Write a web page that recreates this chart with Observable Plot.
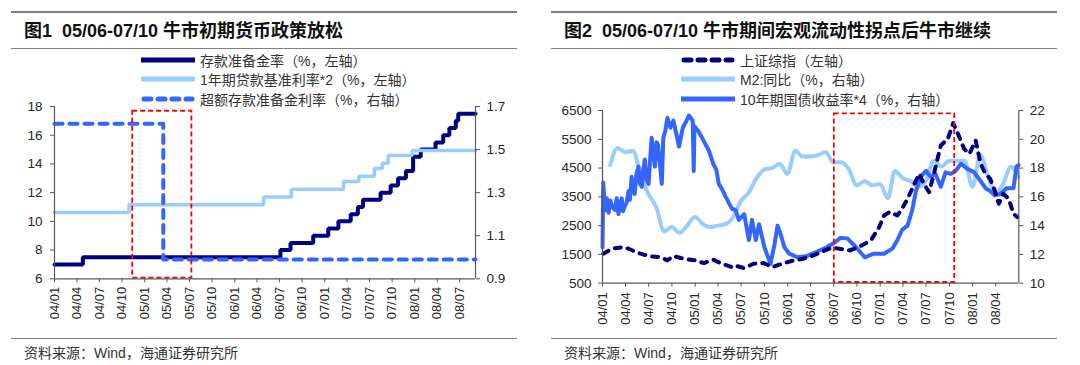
<!DOCTYPE html>
<html><head><meta charset="utf-8">
<script src="https://cdn.jsdelivr.net/npm/d3@7"></script>
<script src="https://cdn.jsdelivr.net/npm/@observablehq/plot@0.6"></script>
<style>
body{margin:0;background:#fff;}
#page{position:relative;width:1080px;height:365px;overflow:hidden;font-family:"Liberation Sans","Noto Sans CJK SC",sans-serif;}
.rule{position:absolute;background:#808080;}
.title{position:absolute;font-weight:bold;font-size:18px;line-height:22px;white-space:pre;color:#111;}
.leg{position:absolute;display:flex;align-items:center;height:18px;font-size:14px;color:#333;white-space:pre;z-index:2;}
.leg svg{display:block;margin-right:5px;}
.src{position:absolute;font-size:14px;line-height:18px;color:#333;white-space:pre;}
.chart{position:absolute;top:95px;z-index:1;}
</style></head><body><div id="page"></div>
<script>
// ---------- Panel 1 data ----------
const title1 = "图1  05/06-07/10 牛市初期货币政策放松";
const legend1 = ["存款准备金率（%，左轴）", "1年期贷款基准利率*2（%，左轴）", "超额存款准备金利率（%，右轴）"];
const rrrDates = ["2004-01-01","2004-04-25","2006-07-05","2006-08-15","2006-11-15","2007-01-15","2007-02-25","2007-04-16","2007-05-15","2007-06-05","2007-08-15","2007-09-25","2007-10-25","2007-11-26","2007-12-25","2008-01-25","2008-03-25","2008-04-25","2008-05-20","2008-06-15","2008-06-25","2008-09-03"];
const rrrValues = [7.0,7.5,8.0,8.5,9.0,9.5,10.0,10.5,11.0,11.5,12.0,12.5,13.0,13.5,14.5,15.0,15.5,16.0,16.5,17.0,17.5,17.5];
const loanDates = ["2004-01-01","2004-10-29","2006-04-28","2006-08-19","2007-03-18","2007-05-19","2007-07-21","2007-08-22","2007-09-15","2007-12-21","2008-09-03"];
const loanValues = [10.62,11.16,11.70,12.24,12.78,13.14,13.68,14.04,14.58,14.94,14.94];
const excessDates = ["2004-01-01","2005-03-17","2008-09-03"];
const excessValues = [1.62,0.99,0.99];
const xDomain1 = ["2004-01-01","2008-09-03"];
const leftTicks1 = [6,8,10,12,14,16,18];
const rightTicks1 = [0.9,1.1,1.3,1.5,1.7];
const xTicks1 = ["2004-01-01","2004-04-01","2004-07-01","2004-10-01","2005-01-01","2005-04-01","2005-07-01","2005-10-01","2006-01-01","2006-04-01","2006-07-01","2006-10-01","2007-01-01","2007-04-01","2007-07-01","2007-10-01","2008-01-01","2008-04-01","2008-07-01"];
const box1 = [{start:"2004-11-13", end:"2005-07-11", low:6.05, high:17.67}];

// ---------- Panel 2 data ----------
const title2 = "图2  05/06-07/10 牛市期间宏观流动性拐点后牛市继续";
const legend2 = ["上证综指（左轴）", "M2:同比（%，右轴）", "10年期国债收益率*4（%，右轴）"];
const shDates = ["2004-01-04","2004-02-07","2004-03-22","2004-04-13","2004-05-22","2004-07-07","2004-08-16","2004-09-13","2004-10-07","2004-11-16","2005-01-01","2005-02-04","2005-03-13","2005-04-16","2005-05-25","2005-06-04","2005-07-13","2005-08-19","2005-09-28","2005-11-01","2005-12-10","2006-01-25","2006-03-04","2006-04-13","2006-05-22","2006-06-22","2006-07-25","2006-09-04","2006-10-13","2006-11-13","2006-11-25","2006-12-28","2007-01-16","2007-02-07","2007-03-10","2007-03-28","2007-04-19","2007-05-13","2007-06-04","2007-06-22","2007-07-13","2007-08-01","2007-08-28","2007-09-25","2007-10-16","2007-11-04","2007-11-28","2007-12-19","2008-01-13","2008-02-01","2008-02-21","2008-03-10","2008-03-28","2008-04-13","2008-05-01","2008-05-22","2008-06-10","2008-06-25"];
const shValues = [1523,1697,1755,1697,1546,1430,1407,1292,1442,1350,1292,1199,1315,1176,1060,1118,1025,1176,1199,1060,1176,1292,1350,1465,1616,1732,1697,1639,1778,1928,1986,2449,2854,2970,2854,3086,3433,3896,4301,3954,3664,4301,5285,5516,6060,5690,5169,4995,5458,4648,4301,4127,3722,3259,3606,3433,2912,2796];
const m2Dates = ["2004-01-31","2004-02-29","2004-03-31","2004-04-30","2004-05-31","2004-06-30","2004-07-31","2004-08-31","2004-09-30","2004-10-31","2004-11-30","2004-12-31","2005-01-31","2005-02-28","2005-03-31","2005-04-30","2005-05-31","2005-06-30","2005-07-31","2005-08-31","2005-09-30","2005-10-31","2005-11-30","2005-12-31","2006-01-31","2006-02-28","2006-03-31","2006-04-30","2006-05-31","2006-06-30","2006-07-31","2006-08-31","2006-09-30","2006-10-31","2006-11-30","2006-12-31","2007-01-31","2007-02-28","2007-03-31","2007-04-30","2007-05-31","2007-06-30","2007-07-31","2007-08-31","2007-09-30","2007-10-31","2007-11-30","2007-12-31","2008-01-31","2008-02-29","2008-03-31","2008-04-30","2008-05-31","2008-06-30"];
const m2Values = [18.2,19.4,19.1,19.2,17.5,16.2,15.3,13.6,13.9,13.5,14.0,14.6,14.1,13.9,14.0,14.1,14.6,15.7,16.3,17.3,17.9,18.0,18.3,17.6,19.2,18.8,18.8,18.9,19.1,18.4,18.4,17.9,16.8,17.1,16.8,16.9,15.9,17.8,17.3,17.1,16.7,17.1,18.5,18.1,18.5,18.5,18.5,16.7,18.9,17.5,16.3,16.9,18.1,17.4];
const bondDates = ["2004-01-01","2004-01-04","2004-01-11","2004-01-18","2004-01-25","2004-02-01","2004-02-08","2004-02-19","2004-02-26","2004-03-04","2004-03-10","2004-03-17","2004-03-22","2004-03-28","2004-04-05","2004-04-13","2004-04-18","2004-04-25","2004-04-29","2004-05-07","2004-05-14","2004-05-22","2004-05-28","2004-06-04","2004-06-10","2004-06-16","2004-06-23","2004-07-01","2004-07-07","2004-07-13","2004-07-20","2004-07-26","2004-08-01","2004-08-07","2004-08-14","2004-08-22","2004-08-28","2004-09-05","2004-09-13","2004-09-25","2004-10-07","2004-10-18","2004-10-29","2004-11-13","2004-11-25","2004-12-07","2004-12-22","2004-12-26","2004-12-29","2005-01-12","2005-01-28","2005-02-24","2005-03-13","2005-03-25","2005-04-04","2005-04-18","2005-05-01","2005-05-25","2005-06-10","2005-06-22","2005-07-13","2005-08-01","2005-08-13","2005-08-28","2005-09-10","2005-10-01","2005-10-25","2005-11-10","2005-11-22","2005-12-04","2005-12-19","2006-01-07","2006-02-10","2006-03-19","2006-04-28","2006-06-04","2006-07-07","2006-07-28","2006-08-25","2006-09-28","2006-11-01","2006-12-07","2007-01-16","2007-02-18","2007-03-10","2007-03-28","2007-04-19","2007-05-07","2007-05-22","2007-06-10","2007-07-01","2007-07-19","2007-08-07","2007-08-28","2007-09-16","2007-10-07","2007-10-25","2007-11-16","2007-12-10","2008-01-07","2008-02-01","2008-02-21","2008-03-10","2008-03-28","2008-04-19","2008-05-13","2008-06-10","2008-06-22","2008-06-30"];
const bondValues = [12.5,17.0,15.06,15.9,14.9,15.75,15.3,15.1,15.9,14.8,15.5,15.9,15.0,15.3,15.6,16.4,15.8,17.4,16.6,16.2,17.6,18.1,16.9,16.7,17.9,18.6,17.2,16.9,18.6,20.1,18.8,18.1,19.8,19.6,18.4,16.9,20.1,20.6,21.5,20.8,21.3,20.4,19.5,20.8,21.2,21.65,21.3,17.8,20.9,20.6,20.1,19.2,18.3,17.9,16.9,16.5,16.0,15.2,15.06,14.4,14.8,13.0,14.4,13.0,14.1,12.5,11.35,12.7,14.0,13.4,12.5,12.05,11.8,11.9,12.2,12.5,12.85,13.15,13.1,12.5,11.8,12.05,12.05,12.4,13.0,13.7,14.0,15.05,16.4,17.4,17.8,17.4,17.6,16.7,17.7,17.6,17.8,18.3,17.95,17.7,17.1,16.6,16.4,16.1,16.2,16.6,16.6,18.1,18.2];
const xDomain2 = ["2004-01-01","2008-07-01"];
const leftTicks2 = [500,1500,2500,3500,4500,5500,6500];
const rightTicks2 = [10,12,14,16,18,20,22];
const xTicks2 = ["2004-01-01","2004-04-01","2004-07-01","2004-10-01","2005-01-01","2005-04-01","2005-07-01","2005-10-01","2006-01-01","2006-04-01","2006-07-01","2006-10-01","2007-01-01","2007-04-01","2007-07-01","2007-10-01","2008-01-01","2008-04-01"];
const box2 = [{start:"2006-07-04", end:"2007-10-22", low:524, high:6385}];
const source = "资料来源：Wind，海通证券研究所";

// ---------- styles ----------
const NAVY = "#000080", LIGHT = "#99ccff", BLUE = "#3366ff", RED = "#ff0000", AXIS = "#595959", TXT = "#262626";
const page = document.getElementById("page");
const D = s => new Date(s);
const zip = (ds, vs) => ds.map((d, i) => ({date: D(d), value: vs[i]}));

function frame(px, title, legend, swatches) {
  const add = (cls, css, text) => { const e = document.createElement("div"); e.className = cls; Object.assign(e.style, css); if (text) e.textContent = text; page.appendChild(e); return e; };
  add("rule", {left: (px + 11) + "px", top: "11px", width: "506px", height: "2px"});
  add("title", {left: (px + 24) + "px", top: "20px"}, title);
  add("rule", {left: (px + 11) + "px", top: "47.5px", width: "506px", height: "1.3px"});
  const ys = [51, 70, 90];
  legend.forEach((t, i) => {
    const row = add("leg", {left: (px + 141) + "px", top: ys[i] + "px"});
    const s = swatches[i];
    row.innerHTML = `<svg width="54" height="10"><line x1="${s.dash ? 3 : 0}" y1="5" x2="${s.dash ? 51 : 54}" y2="5" stroke="${s.color}" stroke-width="5" ${s.dash ? 'stroke-dasharray="7,7" stroke-linecap="round"' : ''}/></svg><span>${t}</span>`;
  });
  add("rule", {left: (px + 11) + "px", top: "337.5px", width: "506px", height: "1.3px"});
  add("src", {left: (px + 24) + "px", top: "344px"}, source);
}

const baseStyle = {fontFamily: "'Liberation Sans', Arial, sans-serif", fontSize: "13px", color: TXT, background: "transparent", overflow: "visible"};

// ---------- Panel 1 ----------
frame(0, title1, legend1, [{color: NAVY}, {color: LIGHT}, {color: BLUE, dash: true}]);
const L1 = [6, 18], R1 = [0.9, 1.7];
const r2l1 = v => L1[0] + (v - R1[0]) / (R1[1] - R1[0]) * (L1[1] - L1[0]);
const l2r1 = v => R1[0] + (v - L1[0]) / (L1[1] - L1[0]) * (R1[1] - R1[0]);
const plot1 = Plot.plot({
  width: 540, height: 240,
  marginLeft: 54, marginRight: 65, marginTop: 11, marginBottom: 56.7,
  style: baseStyle,
  x: {type: "utc", domain: xDomain1.map(D)},
  y: {domain: L1},
  marks: [
    Plot.line(zip(rrrDates, rrrValues), {x: "date", y: "value", curve: "step-after", stroke: NAVY, strokeWidth: 4, strokeLinejoin: "miter"}),
    Plot.line(zip(loanDates, loanValues), {x: "date", y: "value", curve: "step-after", stroke: LIGHT, strokeWidth: 3.5, strokeLinejoin: "miter"}),
    Plot.line(zip(excessDates, excessValues), {x: "date", y: d => r2l1(d.value), curve: "step-after", stroke: BLUE, strokeWidth: 4, strokeDasharray: "8,7", strokeLinecap: "round"}),
    Plot.rect(box1, {x1: d => D(d.start), x2: d => D(d.end), y1: "low", y2: "high", fill: "none", stroke: RED, strokeWidth: 1.8, strokeDasharray: "5,3"}),
    Plot.ruleY([L1[0]], {stroke: AXIS, strokeWidth: 1.2}),
    Plot.ruleX([D(xDomain1[0]), D(xDomain1[1])], {stroke: AXIS, strokeWidth: 1.2}),
    Plot.axisX(xTicks1.map(D), {tickFormat: d3.utcFormat("%y/%m"), tickRotate: -90, tickSize: 4, tickPadding: 4, label: null, stroke: AXIS, fill: TXT, fontSize: 13}),
    Plot.axisY(leftTicks1, {anchor: "left", tickSize: 4, tickPadding: 8, label: null, stroke: AXIS, fill: TXT, fontSize: 13.5}),
    Plot.axisY(rightTicks1.map(r2l1), {anchor: "right", tickSize: 4, tickPadding: 7, label: null, stroke: AXIS, fill: TXT, fontSize: 13.5, tickFormat: v => d3.format(".1f")(l2r1(v))})
  ]
});
plot1.classList.add("chart");
plot1.style.left = "0px";
page.appendChild(plot1);

// ---------- Panel 2 ----------
frame(540, title2, legend2, [{color: NAVY, dash: true}, {color: LIGHT}, {color: BLUE}]);
const L2 = [500, 6500], R2 = [10, 22];
const r2l2 = v => L2[0] + (v - R2[0]) / (R2[1] - R2[0]) * (L2[1] - L2[0]);
const l2r2 = v => R2[0] + (v - L2[0]) / (L2[1] - L2[0]) * (R2[1] - R2[0]);
const plot2 = Plot.plot({
  width: 540, height: 240,
  marginLeft: 62, marginRight: 61.7, marginTop: 15, marginBottom: 52.3,
  style: baseStyle,
  x: {type: "utc", domain: xDomain2.map(D)},
  y: {domain: L2},
  marks: [
    Plot.line(zip(m2Dates, m2Values), {x: "date", y: d => r2l2(d.value), stroke: LIGHT, strokeWidth: 4, curve: "monotone-x"}),
    Plot.line(zip(bondDates, bondValues), {x: "date", y: d => r2l2(d.value), stroke: BLUE, strokeWidth: 4}),
    Plot.line(zip(shDates, shValues), {x: "date", y: "value", stroke: NAVY, strokeWidth: 4, strokeDasharray: "6,7", strokeLinecap: "round"}),
    Plot.rect(box2, {x1: d => D(d.start), x2: d => D(d.end), y1: "low", y2: "high", fill: "none", stroke: RED, strokeWidth: 1.8, strokeDasharray: "5,3"}),
    Plot.ruleY([L2[0]], {stroke: AXIS, strokeWidth: 1.2}),
    Plot.ruleX([D(xDomain2[0]), D(xDomain2[1])], {stroke: AXIS, strokeWidth: 1.2}),
    Plot.axisX(xTicks2.map(D), {tickFormat: d3.utcFormat("%y/%m"), tickRotate: -90, tickSize: 4, tickPadding: 5, label: null, stroke: AXIS, fill: TXT, fontSize: 13}),
    Plot.axisY(leftTicks2, {anchor: "left", tickSize: 4, tickPadding: 7, label: null, stroke: AXIS, fill: TXT, fontSize: 13.5, tickFormat: d => String(d)}),
    Plot.axisY(rightTicks2.map(r2l2), {anchor: "right", tickSize: 4, tickPadding: 7, label: null, stroke: AXIS, fill: TXT, fontSize: 13.5, tickFormat: v => String(Math.round(l2r2(v)))})
  ]
});
plot2.classList.add("chart");
plot2.style.left = "540px";
page.appendChild(plot2);
</script></body></html>
